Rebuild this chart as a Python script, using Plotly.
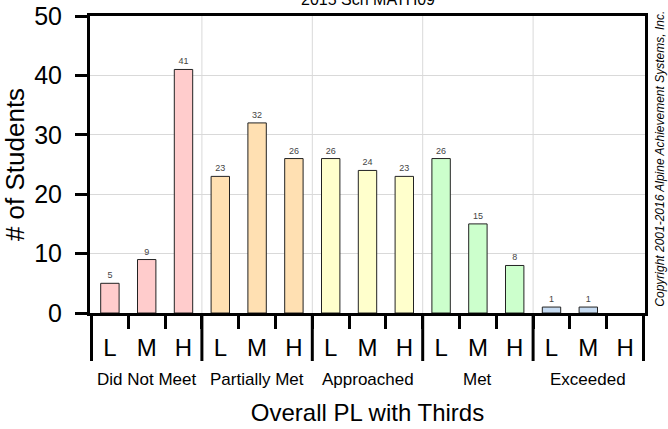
import plotly.graph_objects as go

# ---- data ----
groups = ["Did Not Meet", "Partially Met", "Approached", "Met", "Exceeded"]
thirds = ["L", "M", "H"]
did_not_meet = [5, 9, 41]
partially_met = [23, 32, 26]
approached = [26, 24, 23]
met = [26, 15, 8]
exceeded = [1, 1, 0]
series = [did_not_meet, partially_met, approached, met, exceeded]
colors = ["#FFCCCC", "#FFE0B2", "#FFFFCC", "#CCFFCC", "#C6DBF2"]
title_text = "2015 Sch MATH09"
copyright_text = "Copyright 2001-2016 Alpine Achievement Systems, Inc."

FONT = "Arial, Liberation Sans, sans-serif"

keys = [f"{g}|{t}" for g in groups for t in thirds]
ticktext = [t for g in groups for t in thirds]

fig = go.Figure()
for g, vals, col in zip(groups, series, colors):
    fig.add_trace(go.Bar(
        x=[f"{g}|{t}" for t in thirds],
        y=vals,
        width=0.5,
        marker=dict(color=col, line=dict(color="#222222", width=[1 if v > 0 else 0 for v in vals])),
        text=[str(v) if v > 0 else "" for v in vals],
        textposition="outside",
        textfont=dict(size=9, color="#444444", family=FONT),
        cliponaxis=False,
        showlegend=False,
        hoverinfo="x+y",
    ))

plot_h = 429 - 16 - 116
shapes = []
n = len(thirds)
bounds = [i * n - 0.5 for i in range(len(groups) + 1)]
for b in bounds:
    if 0 < b < len(keys) - 1:
        shapes.append(dict(type="line", xref="x", yref="paper", x0=b, x1=b, y0=0, y1=1,
                           line=dict(color="#D9D9D9", width=1), layer="below"))
    shapes.append(dict(type="line", xref="x", yref="paper", x0=b, x1=b, y0=0, y1=-48 / plot_h,
                       line=dict(color="black", width=3)))

annotations = []
for i, g in enumerate(groups):
    annotations.append(dict(x=i * n + (n - 1) / 2, xref="x", y=-66 / plot_h, yref="paper",
                            text=g, showarrow=False, font=dict(size=17, family=FONT, color="black"),
                            xanchor="center", yanchor="middle"))
annotations.append(dict(x=1.0255, xref="paper", y=0.52, yref="paper", text=copyright_text,
                        textangle=-90, showarrow=False, borderpad=0,
                        font=dict(size=12, family=FONT, color="black", style="italic"),
                        xanchor="center", yanchor="middle"))
annotations.append(dict(x=0.5, xref="paper", y=1, yref="paper", text=title_text,
                        showarrow=False, yanchor="middle", xanchor="center", yshift=17,
                        font=dict(size=16, family=FONT, color="black")))

fig.update_layout(
    width=668, height=429,
    margin=dict(l=90, r=23, t=16, b=116),
    paper_bgcolor="white", plot_bgcolor="white",
    barmode="overlay",
    font=dict(family=FONT, color="black"),
    shapes=shapes,
    annotations=annotations,
    xaxis=dict(
        type="category", categoryorder="array", categoryarray=keys,
        tickmode="array", tickvals=keys, ticktext=ticktext,
        tickson="boundaries", ticks="outside", ticklen=13, tickwidth=3, tickcolor="black",
        showline=True, linewidth=3, linecolor="black", mirror=True,
        showgrid=False, tickfont=dict(size=24, family=FONT),
        ticklabelstandoff=11, automargin=False,
        title=dict(text="Overall PL with Thirds", font=dict(size=24, family=FONT), standoff=45),
    ),
    yaxis=dict(
        range=[0, 50], dtick=10, ticks="outside", ticklen=12, tickwidth=3, tickcolor="black",
        showline=True, linewidth=3, linecolor="black", mirror=True,
        showgrid=True, gridcolor="#D9D9D9", gridwidth=1, zeroline=False,
        tickfont=dict(size=25, family=FONT), ticklabelstandoff=8, automargin=False,
        title=dict(text="# of Students", font=dict(size=26, family=FONT), standoff=3),
    ),
)

fig.write_html("out.html", config={"displayModeBar": False},
               post_script="document.body.style.margin='0';")
